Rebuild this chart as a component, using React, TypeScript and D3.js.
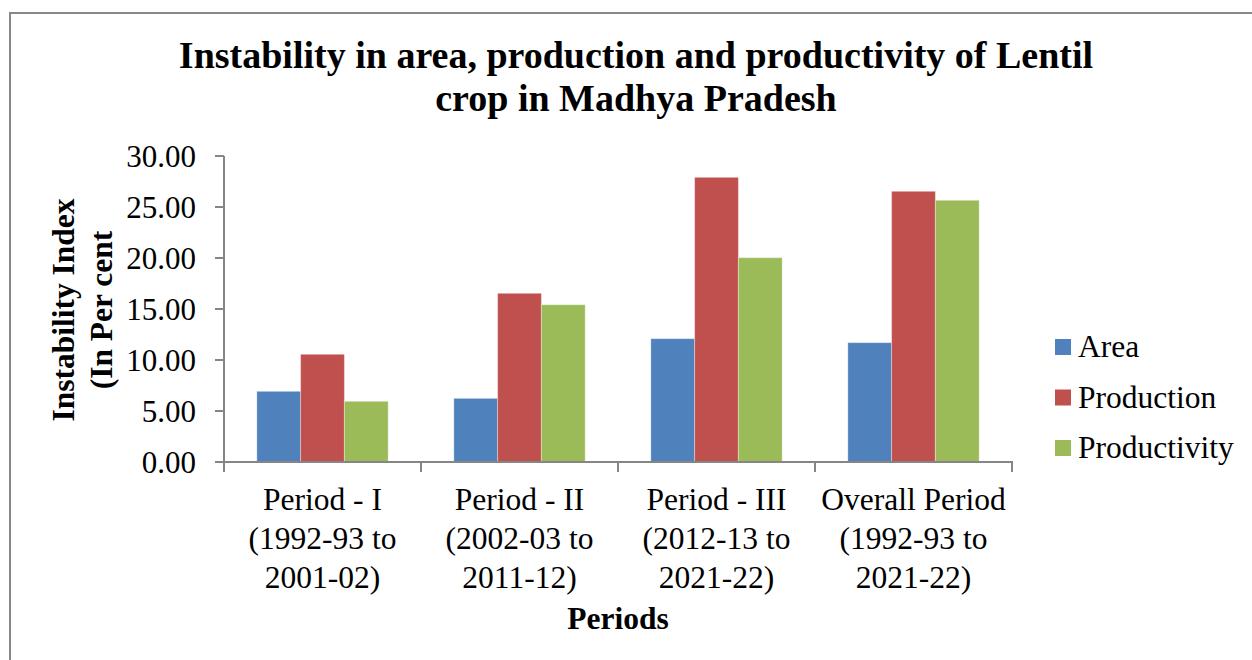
import React from "react";
import * as d3 from "d3";

const categories = [
  ["Period - I", "(1992-93 to", "2001-02)"],
  ["Period - II", "(2002-03 to", "2011-12)"],
  ["Period - III", "(2012-13 to", "2021-22)"],
  ["Overall Period", "(1992-93 to", "2021-22)"],
];
const seriesNames = ["Area", "Production", "Productivity"];
const area = [6.93, 6.24, 12.09, 11.7];
const production = [10.56, 16.54, 27.91, 26.54];
const productivity = [5.95, 15.42, 20.03, 25.66];
const yTicks = [0, 5, 10, 15, 20, 25, 30];
const colors = ["#4F81BD", "#C0504D", "#9BBB59"];

const FONT = "'Liberation Serif', 'Times New Roman', serif";

export default function App() {
  const series = [area, production, productivity];
  const catKeys = categories.map((c) => c[0]);
  const x = d3.scaleBand<string>().domain(catKeys).range([224, 1012]).padding(0);
  const bw = x.bandwidth() / 4.5;
  const y = d3.scaleLinear().domain([0, 30]).range([462, 156]);
  const axisColor = "#868686";

  return (
    <svg
      width={1252}
      height={660}
      style={{ position: "absolute", left: 0, top: 0, background: "#fff" }}
      fontFamily={FONT}
    >
      <rect x={0} y={0} width={1252} height={660} fill="#fff" />
      <rect x={10} y={13} width={1260} height={700} fill="none" stroke="#888" strokeWidth={2} />
      <text x={636} y={68} textAnchor="middle" fontSize={38} fontWeight="bold" fill="#000">
        Instability in area, production and productivity of Lentil
      </text>
      <text x={636} y={111} textAnchor="middle" fontSize={38} fontWeight="bold" fill="#000">
        crop in Madhya Pradesh
      </text>

      {series.map((vals, si) =>
        vals.map((v, ci) => (
          <rect
            key={`${si}-${ci}`}
            x={(x(catKeys[ci]) as number) + 0.75 * bw + si * bw}
            y={y(v)}
            width={bw}
            height={y(0) - y(v)}
            fill={colors[si]}
            stroke="#fff"
            strokeOpacity={0.35}
            strokeWidth={1}
          />
        ))
      )}

      {/* y axis */}
      <line x1={224} x2={224} y1={y(30)} y2={y(0)} stroke={axisColor} strokeWidth={2} />
      {yTicks.map((t) => (
        <g key={t}>
          <line x1={215} x2={224} y1={y(t)} y2={y(t)} stroke={axisColor} strokeWidth={2} />
          <text x={196} y={y(t) + 10.5} textAnchor="end" fontSize={31} fill="#000">
            {t.toFixed(2)}
          </text>
        </g>
      ))}
      {/* x axis */}
      <line x1={215} x2={1013} y1={y(0)} y2={y(0)} stroke={axisColor} strokeWidth={2} />
      {[...catKeys.map((c) => x(c) as number), 1012].map((px, i) => (
        <line key={i} x1={px} x2={px} y1={y(0)} y2={y(0) + 10} stroke={axisColor} strokeWidth={2} />
      ))}
      {categories.map((lines, ci) => (
        <text
          key={ci}
          x={(x(catKeys[ci]) as number) + x.bandwidth() / 2}
          textAnchor="middle"
          fontSize={31.5}
          fill="#000"
        >
          {lines.map((l, li) => (
            <tspan key={li} x={(x(catKeys[ci]) as number) + x.bandwidth() / 2} y={510 + li * 39}>
              {l}
            </tspan>
          ))}
        </text>
      ))}
      <text x={618} y={629} textAnchor="middle" fontSize={31.5} fontWeight="bold" fill="#000">
        Periods
      </text>

      {/* y axis title */}
      <text transform="translate(74,310) rotate(-90)" textAnchor="middle" fontSize={31.5} fontWeight="bold" fill="#000">
        Instability Index
      </text>
      <text transform="translate(112,310) rotate(-90)" textAnchor="middle" fontSize={31.5} fontWeight="bold" fill="#000">
        (In Per cent
      </text>

      {/* legend */}
      {seriesNames.map((n, i) => (
        <g key={n}>
          <rect x={1055} y={339 + i * 50.5} width={16} height={16} fill={colors[i]} />
          <text x={1078} y={357 + i * 50.5} fontSize={31.5} fill="#000">
            {n}
          </text>
        </g>
      ))}
    </svg>
  );
}
